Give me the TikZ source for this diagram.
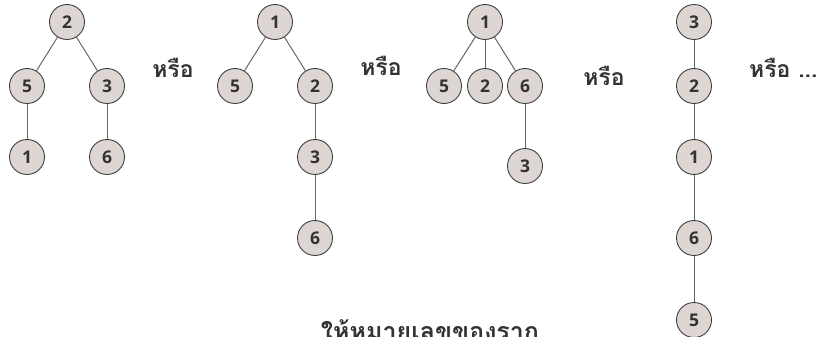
\documentclass[tikz,border=0pt]{standalone}
\usepackage{fontspec}
\setmainfont{Open Sans}
\newfontfamily\thaifont[Script=Thai]{Loma}
\begin{document}
\begin{tikzpicture}[x=1pt,y=-1pt,
  vnode/.style={circle,draw=black!75,line width=0.9pt,fill=nodefill,minimum size=35pt,inner sep=0pt,font=\fontsize{17.5}{17.5}\selectfont\bfseries,text=black!80},
  edge/.style={draw=black!60,line width=1pt},
  ortext/.style={font=\thaifont\fontsize{23}{23}\selectfont\bfseries,text=black!80,inner sep=0pt}]
\definecolor{nodefill}{HTML}{DDD6D3}
\useasboundingbox (0,0) rectangle (830,337);
% tree 1
\node[vnode] (a2) at (67,22) {2};
\node[vnode] (a5) at (27,86) {5};
\node[vnode] (a3) at (107,86) {3};
\node[vnode] (a1) at (27,157) {1};
\node[vnode] (a6) at (107,157) {6};
\draw[edge] (a2) -- (a5); \draw[edge] (a2) -- (a3);
\draw[edge] (a5) -- (a1); \draw[edge] (a3) -- (a6);
\node[ortext] (or1) at (173,68) {หรือ};
% tree 2
\node[vnode] (b1) at (275,22) {1};
\node[vnode] (b5) at (235,86) {5};
\node[vnode] (b2) at (315,86) {2};
\node[vnode] (b3) at (315,157) {3};
\node[vnode] (b6) at (315,238) {6};
\draw[edge] (b1) -- (b5); \draw[edge] (b1) -- (b2);
\draw[edge] (b2) -- (b3); \draw[edge] (b3) -- (b6);
\node[ortext] (or2) at (381,66) {หรือ};
% tree 3
\node[vnode] (c1) at (485,22) {1};
\node[vnode] (c5) at (444,86) {5};
\node[vnode] (c2) at (485,86) {2};
\node[vnode] (c6) at (525,86) {6};
\node[vnode] (c3) at (525,166) {3};
\draw[edge] (c1) -- (c5); \draw[edge] (c1) -- (c2); \draw[edge] (c1) -- (c6);
\draw[edge] (c6) -- (c3);
\node[ortext] (or3) at (604,76) {หรือ};
% tree 4
\node[vnode] (d3) at (694,22) {3};
\node[vnode] (d2) at (694,86) {2};
\node[vnode] (d1) at (694,157) {1};
\node[vnode] (d6) at (694,238) {6};
\node[vnode] (d5) at (694,320) {5};
\draw[edge] (d3) -- (d2); \draw[edge] (d2) -- (d1);
\draw[edge] (d1) -- (d6); \draw[edge] (d6) -- (d5);
\node[ortext,anchor=west] (or4) at (749,68) {หรือ ...};
% bottom caption (cut off at the lower edge, as in the reference)
\node[ortext,font=\thaifont\fontsize{25}{25}\selectfont\bfseries,anchor=base] (cap) at (430,340) {ให้หมายเลขของราก};
\end{tikzpicture}
\end{document}
